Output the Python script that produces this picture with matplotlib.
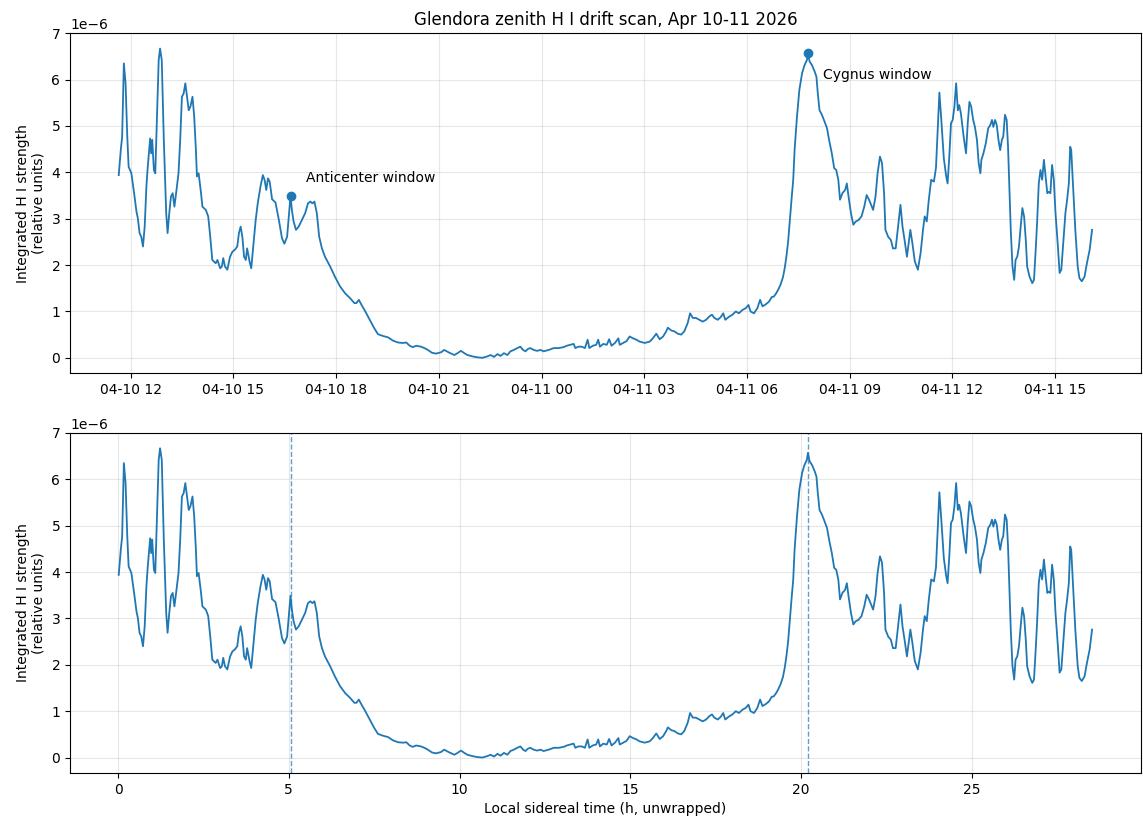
import numpy as np
import pandas as pd
import matplotlib
matplotlib.use("Agg")
import matplotlib.pyplot as plt

# LST (h, unwrapped) e intensidade integrada (x1e-6)
lst = [0.02, 0.08, 0.12, 0.17, 0.22, 0.27, 0.31, 0.39, 0.47, 0.54, 0.58, 0.63, 0.68, 0.73, 0.78, 0.83, 0.87, 0.94, 0.97, 1.00,
       1.05, 1.09, 1.15, 1.19, 1.23, 1.28, 1.34, 1.41, 1.45, 1.50, 1.55, 1.60, 1.65, 1.70, 1.77, 1.82, 1.87, 1.92, 1.97, 2.02,
       2.07, 2.12, 2.18, 2.23, 2.28, 2.31, 2.36, 2.43, 2.47, 2.57, 2.64, 2.70, 2.76, 2.86, 2.91, 2.99, 3.04, 3.08, 3.13, 3.20,
       3.28, 3.35, 3.42, 3.49, 3.54, 3.59, 3.64, 3.69, 3.74, 3.78, 3.85, 3.90, 3.96, 4.03, 4.09, 4.17, 4.24, 4.29, 4.34, 4.39,
       4.44, 4.51, 4.61, 4.70, 4.80, 4.87, 4.95, 5.00, 5.05, 5.09, 5.14, 5.21, 5.29, 5.38, 5.48, 5.56, 5.63, 5.69, 5.75, 5.82,
       5.89, 5.97, 6.06, 6.21, 6.35, 6.50, 6.65, 6.79, 6.92, 6.98, 7.05, 7.13, 7.24, 7.37, 7.50, 7.61, 7.76, 7.91, 8.05, 8.20,
       8.34, 8.44, 8.54, 8.63, 8.73, 8.87, 8.97, 9.07, 9.19, 9.31, 9.46, 9.55, 9.70, 9.85, 9.94, 10.04, 10.14, 10.23, 10.38, 10.52,
       10.67, 10.81, 10.91, 11.01, 11.11, 11.20, 11.30, 11.40, 11.49, 11.59, 11.69, 11.78, 11.86, 11.93, 12.00, 12.07, 12.17, 12.27, 12.37, 12.46,
       12.61, 12.76, 12.90, 13.05, 13.14, 13.24, 13.34, 13.39, 13.48, 13.58, 13.67, 13.75, 13.80, 13.90, 14.00, 14.06, 14.11, 14.21, 14.31, 14.38,
       14.45, 14.55, 14.65, 14.69, 14.79, 14.89, 14.98, 15.08, 15.18, 15.27, 15.42, 15.57, 15.66, 15.76, 15.86, 15.96, 16.05, 16.10, 16.20, 16.29,
       16.39, 16.49, 16.58, 16.68, 16.75, 16.83, 16.92, 17.02, 17.12, 17.22, 17.31, 17.39, 17.46, 17.56, 17.65, 17.72, 17.78, 17.88, 17.99, 18.09,
       18.18, 18.28, 18.38, 18.46, 18.52, 18.62, 18.72, 18.80, 18.87, 18.96, 19.06, 19.14, 19.20, 19.27, 19.33, 19.40, 19.47, 19.52, 19.57, 19.62,
       19.67, 19.72, 19.77, 19.81, 19.88, 19.95, 20.03, 20.10, 20.17, 20.20, 20.25, 20.32, 20.40, 20.45, 20.49, 20.54, 20.61, 20.69, 20.76, 20.82,
       20.90, 20.97, 21.03, 21.09, 21.14, 21.21, 21.29, 21.34, 21.39, 21.46, 21.53, 21.60, 21.68, 21.77, 21.85, 21.92, 21.99, 22.05, 22.11, 22.18,
       22.24, 22.31, 22.37, 22.43, 22.47, 22.55, 22.63, 22.69, 22.77, 22.84, 22.91, 22.97, 23.03, 23.10, 23.20, 23.26, 23.33, 23.42, 23.50, 23.57,
       23.62, 23.68, 23.74, 23.81, 23.89, 23.95, 24.00, 24.05, 24.10, 24.18, 24.25, 24.29, 24.34, 24.39, 24.44, 24.49, 24.54, 24.59, 24.63, 24.68,
       24.76, 24.83, 24.88, 24.93, 24.98, 25.04, 25.09, 25.15, 25.20, 25.25, 25.28, 25.34, 25.41, 25.48, 25.54, 25.59, 25.63, 25.68, 25.73, 25.78,
       25.83, 25.88, 25.92, 25.97, 26.02, 26.06, 26.10, 26.14, 26.19, 26.24, 26.28, 26.33, 26.38, 26.43, 26.48, 26.53, 26.58, 26.62, 26.69, 26.77,
       26.82, 26.87, 26.91, 26.96, 27.01, 27.06, 27.11, 27.16, 27.21, 27.25, 27.30, 27.35, 27.40, 27.45, 27.52, 27.57, 27.62, 27.67, 27.74, 27.79,
       27.84, 27.88, 27.91, 27.96, 28.03, 28.10, 28.15, 28.22, 28.30, 28.37, 28.45, 28.52]
intensidade = [3.94, 4.48, 4.77, 6.35, 5.92, 4.77, 4.12, 3.98, 3.55, 3.15, 3.01, 2.69, 2.61, 2.40, 2.83, 3.69, 4.12, 4.73, 4.41, 4.70,
               4.05, 3.98, 5.42, 6.42, 6.67, 6.42, 4.70, 3.12, 2.69, 3.12, 3.48, 3.55, 3.26, 3.55, 3.98, 4.70, 5.63, 5.70, 5.92, 5.63,
               5.34, 5.42, 5.63, 5.20, 4.48, 3.91, 3.98, 3.55, 3.26, 3.19, 3.05, 2.61, 2.11, 2.04, 2.11, 1.93, 1.97, 2.15, 1.97, 1.90,
               2.18, 2.29, 2.33, 2.40, 2.69, 2.83, 2.61, 2.18, 2.11, 2.36, 2.08, 1.93, 2.40, 2.97, 3.33, 3.69, 3.94, 3.84, 3.62, 3.87,
               3.80, 3.42, 3.35, 3.01, 2.58, 2.46, 2.61, 3.05, 3.49, 3.19, 2.94, 2.76, 2.83, 2.97, 3.12, 3.33, 3.37, 3.33, 3.37, 3.12,
               2.61, 2.36, 2.18, 1.97, 1.75, 1.54, 1.39, 1.29, 1.18, 1.18, 1.25, 1.14, 1.00, 0.82, 0.64, 0.51, 0.47, 0.44, 0.37, 0.33,
               0.32, 0.33, 0.26, 0.23, 0.26, 0.24, 0.21, 0.17, 0.11, 0.09, 0.12, 0.17, 0.11, 0.06, 0.10, 0.15, 0.10, 0.06, 0.03, 0.01,
               0.00, 0.03, 0.06, 0.02, 0.08, 0.04, 0.10, 0.06, 0.14, 0.17, 0.21, 0.24, 0.17, 0.14, 0.19, 0.21, 0.17, 0.15, 0.17, 0.14,
               0.17, 0.21, 0.21, 0.23, 0.26, 0.28, 0.30, 0.21, 0.24, 0.24, 0.21, 0.39, 0.21, 0.26, 0.28, 0.39, 0.24, 0.30, 0.28, 0.40,
               0.26, 0.32, 0.42, 0.28, 0.32, 0.36, 0.46, 0.42, 0.39, 0.35, 0.32, 0.35, 0.42, 0.52, 0.40, 0.46, 0.57, 0.65, 0.59, 0.57,
               0.52, 0.50, 0.57, 0.75, 0.96, 0.86, 0.86, 0.82, 0.78, 0.82, 0.89, 0.93, 0.86, 0.82, 0.88, 0.96, 0.82, 0.88, 0.93, 1.00,
               0.96, 1.03, 1.07, 1.14, 1.00, 0.96, 1.07, 1.25, 1.11, 1.15, 1.21, 1.31, 1.32, 1.39, 1.47, 1.58, 1.74, 1.93, 2.18, 2.50,
               2.97, 3.41, 3.84, 4.48, 5.20, 5.78, 6.14, 6.31, 6.42, 6.57, 6.39, 6.31, 6.17, 6.06, 5.70, 5.34, 5.24, 5.09, 4.95, 4.70,
               4.41, 4.09, 4.05, 3.84, 3.41, 3.55, 3.62, 3.76, 3.48, 3.12, 2.87, 2.94, 2.97, 3.05, 3.26, 3.51, 3.41, 3.30, 3.19, 3.48,
               3.98, 4.34, 4.20, 3.55, 2.76, 2.61, 2.54, 2.36, 2.36, 2.83, 3.30, 2.83, 2.54, 2.18, 2.76, 2.47, 2.08, 1.90, 2.26, 2.76,
               3.05, 2.94, 3.41, 3.84, 3.80, 4.10, 4.90, 5.72, 5.20, 4.30, 3.91, 3.76, 4.34, 5.06, 5.13, 5.42, 5.92, 5.34, 5.45, 5.27,
               4.77, 4.41, 5.06, 5.52, 5.42, 5.13, 4.98, 4.70, 4.20, 3.98, 4.27, 4.41, 4.63, 4.95, 5.02, 5.13, 4.98, 5.13, 5.02, 4.70,
               4.48, 4.70, 4.77, 5.24, 5.13, 4.55, 3.62, 2.76, 1.97, 1.68, 2.11, 2.18, 2.40, 2.83, 3.23, 3.05, 2.54, 1.97, 1.75, 1.61,
               1.68, 2.33, 2.90, 3.76, 4.05, 3.84, 4.27, 3.91, 3.55, 3.58, 3.55, 4.16, 3.84, 3.12, 2.40, 1.83, 1.90, 2.40, 3.12, 3.41,
               3.76, 4.55, 4.48, 3.76, 2.76, 1.97, 1.72, 1.65, 1.75, 2.04, 2.33, 2.76]

inicio = pd.Timestamp("2026-04-10 11:38")
lst_anticentro = 5.05
lst_cygnus = 20.20

lst = np.array(lst)
vals = np.array(intensidade) * 1e-6
# tempo solar a partir do LST
tempos = inicio + pd.to_timedelta(lst / 1.0027379, unit="h")

i_ac = np.argmin(np.abs(lst - lst_anticentro))
i_cy = np.argmin(np.abs(lst - lst_cygnus))

fig, (ax1, ax2) = plt.subplots(2, 1, figsize=(11.43, 8.27), dpi=100)
fig.subplots_adjust(left=0.0613, right=0.998, top=0.960, bottom=0.0653, hspace=0.175)

# Painel de cima: tempo civil
ax1.plot(tempos, vals, color="C0", lw=1.3)
ax1.plot(tempos[i_ac], vals[i_ac], "o", color="C0", ms=6)
ax1.plot(tempos[i_cy], vals[i_cy], "o", color="C0", ms=6)
ax1.annotate("Anticenter window", (tempos[i_ac], vals[i_ac]), xytext=(11, 8),
             textcoords="offset points", ha="left", va="bottom", fontsize=10)
ax1.annotate("Cygnus window", (tempos[i_cy], vals[i_cy]), xytext=(11, -11),
             textcoords="offset points", ha="left", va="top", fontsize=10)
ax1.set_title("Glendora zenith H I drift scan, Apr 10-11 2026")
ax1.set_ylabel("Integrated H I strength\n(relative units)")
ax1.grid(True, alpha=0.3)

# Painel de baixo: LST
ax2.plot(lst, vals, color="C0", lw=1.3)
ax2.axvline(lst[i_ac], color="C0", ls="--", lw=1, alpha=0.7)
ax2.axvline(lst[i_cy], color="C0", ls="--", lw=1, alpha=0.7)
ax2.set_xlabel("Local sidereal time (h, unwrapped)")
ax2.set_ylabel("Integrated H I strength\n(relative units)")
ax2.grid(True, alpha=0.3)

plt.savefig("out.png")
